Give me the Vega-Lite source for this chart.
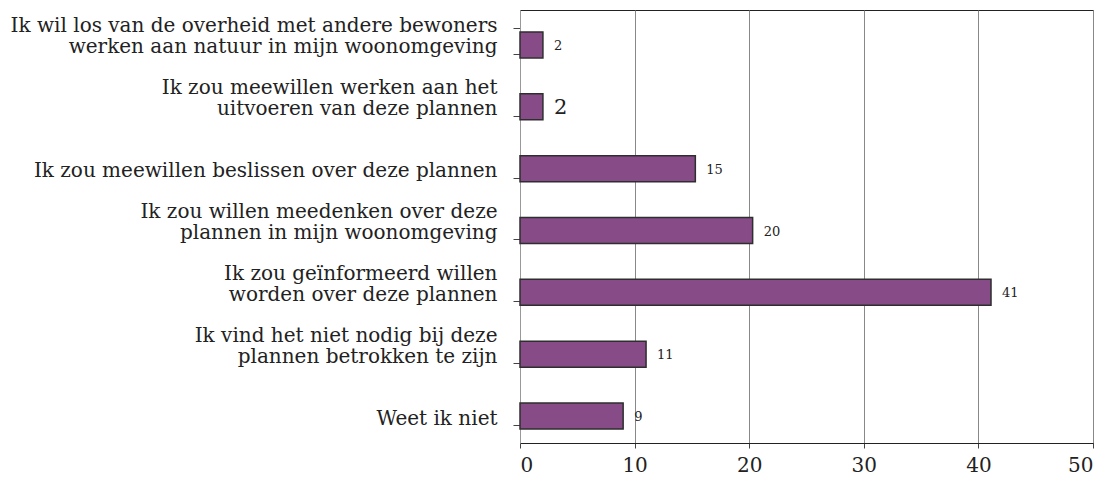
{
  "$schema": "https://vega.github.io/schema/vega-lite/v6.json",
  "width": 573,
  "height": 433,
  "autosize": "none",
  "padding": {"left": 520, "top": 10, "right": 14, "bottom": 37},
  "background": "white",
  "config": {
    "view": {"stroke": "#222", "strokeWidth": 1},
    "font": "DejaVu Serif",
    "axis": {"labelFont": "DejaVu Serif"}
  },
  "data": {
    "values": [
      {"cat": "Ik wil los van de overheid met andere bewoners|werken aan natuur in mijn woonomgeving", "value": 2, "big": false},
      {"cat": "Ik zou meewillen werken aan het|uitvoeren van deze plannen", "value": 2, "big": true},
      {"cat": "Ik zou meewillen beslissen over deze plannen", "value": 15.3, "big": false},
      {"cat": "Ik zou willen meedenken over deze|plannen in mijn woonomgeving", "value": 20.3, "big": false},
      {"cat": "Ik zou geïnformeerd willen|worden over deze plannen", "value": 41.1, "big": false},
      {"cat": "Ik vind het niet nodig bij deze|plannen betrokken te zijn", "value": 11, "big": false},
      {"cat": "Weet ik niet", "value": 9, "big": false}
    ]
  },
  "encoding": {
    "y": {
      "field": "cat",
      "type": "nominal",
      "sort": null,
      "scale": {"paddingInner": 0.58, "paddingOuter": 0.29},
      "axis": {
        "title": null,
        "labelExpr": "indexof(datum.label, '|') >= 0 ? split(datum.label, '|') : [' ', datum.label]",
        "labelFont": "DejaVu Serif",
        "labelFontSize": 20,
        "labelLineHeight": 21,
        "labelBaseline": "middle",
        "labelOffset": -15,
        "labelColor": "#222",
        "labelPadding": 16,
        "labelLimit": 520,
        "tickBand": "extent",
        "tickSize": 7,
        "tickColor": "#444",
        "domainColor": "#999",
        "grid": false
      }
    },
    "x": {
      "field": "value",
      "type": "quantitative",
      "scale": {"domain": [0, 50], "nice": false},
      "axis": {
        "title": null,
        "values": [0, 10, 20, 30, 40, 50],
        "labelFont": "DejaVu Serif",
        "labelFontSize": 20,
        "labelColor": "#222",
        "labelPadding": 7,
        "tickSize": 5,
        "tickColor": "#444",
        "domainColor": "#222",
        "grid": true,
        "gridColor": "#888",
        "gridOpacity": 1
      }
    }
  },
  "layer": [
    {
      "mark": {"type": "bar", "color": "#874C87", "stroke": "#2e2e2e", "strokeWidth": 1.5},
      "encoding": {"yOffset": {"value": 4}}
    },
    {
      "mark": {"type": "text", "align": "left", "baseline": "middle", "dx": 11, "dy": 5, "color": "#222", "font": "DejaVu Serif"},
      "encoding": {
        "text": {"field": "value", "type": "quantitative", "format": ".0f"},
        "size": {"condition": {"test": "datum.big", "value": 21}, "value": 13}
      }
    }
  ]
}
